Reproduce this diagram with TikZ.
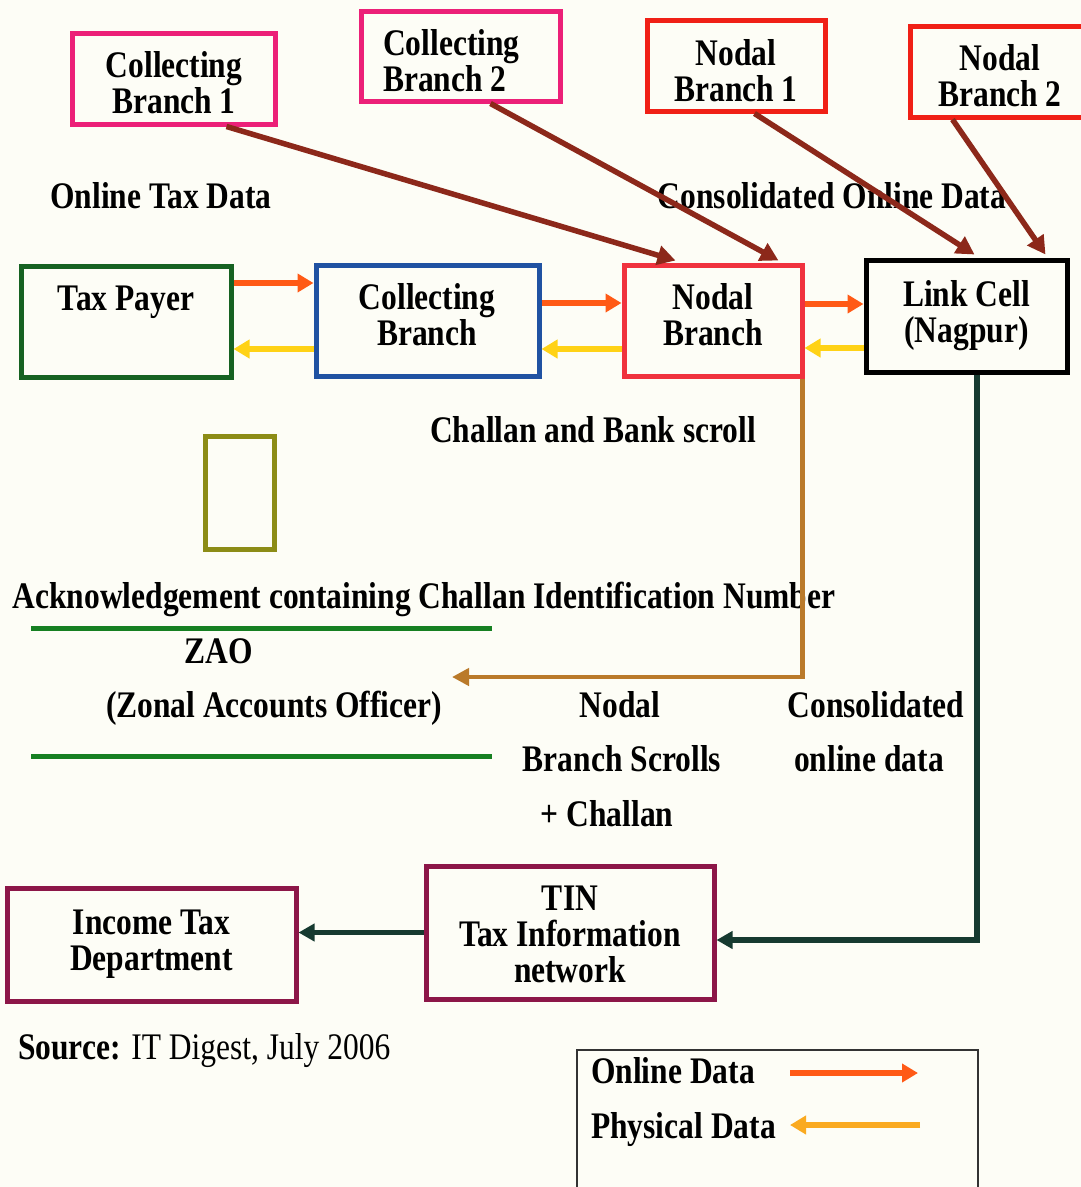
\documentclass[tikz,border=0pt]{standalone}
\usepackage{fontspec}
\setmainfont{Liberation Serif}[FakeStretch=0.84]
\usetikzlibrary{arrows.meta,calc}

\definecolor{paper}{RGB}{253,253,246}
\definecolor{pinkb}{RGB}{236,32,120}
\definecolor{redb}{RGB}{240,32,22}
\definecolor{nodalred}{RGB}{240,50,62}
\definecolor{payergreen}{RGB}{22,98,34}
\definecolor{branchblue}{RGB}{32,82,162}
\definecolor{olive}{RGB}{140,140,22}
\definecolor{maroon}{RGB}{140,22,72}
\definecolor{feedbrown}{RGB}{140,40,26}
\definecolor{scrollgold}{RGB}{186,122,42}
\definecolor{netdark}{RGB}{22,58,48}
\definecolor{onlinec}{RGB}{255,90,22}
\definecolor{physc}{RGB}{255,210,22}
\definecolor{physleg}{RGB}{250,170,32}
\definecolor{zaogreen}{RGB}{22,128,34}

\begin{document}
\begin{tikzpicture}[x=1pt,y=-1pt,
  every node/.style={font=\bfseries\fontsize{37.5}{36}\selectfont, inner sep=0pt, align=center},
  box/.style={draw=#1, line width=5pt},
  label/.style={anchor=base},
  online/.style={draw=onlinec, line width=6pt, -{Triangle[length=16pt,width=18pt]}},
  physical/.style={draw=physc, line width=6pt, -{Triangle[length=16pt,width=18pt]}},
  feed/.style={draw=feedbrown, line width=5.5pt, -{Triangle[length=18pt,width=19pt]}},
  scroll/.style={draw=scrollgold, line width=4.5pt, -{Triangle[length=17pt,width=17pt]}},
  net/.style={draw=netdark, line width=5.5pt, -{Triangle[length=16pt,width=17pt]}}]

\clip (0,0) rectangle (1081,1187);
\fill[paper] (0,0) rectangle (1081,1187);

% upper branches
\node[box=pinkb, minimum width=203pt, minimum height=91pt] (cb1) at (173.5,78.5) {};
\node (cb1t) at (174,82.5) {Collecting\\Branch 1};
\node[box=pinkb, minimum width=199pt, minimum height=90pt] (cb2) at (460.5,56) {};
\node[align=left, anchor=west] (cb2t) at (383,60.5) {Collecting\\Branch 2};
\node[box=redb, minimum width=178pt, minimum height=91pt] (nb1) at (736,65.5) {};
\node (nb1t) at (736,70.5) {Nodal\\Branch 1};
\node[box=redb, minimum width=182pt, minimum height=91pt] (nb2) at (1001,71.5) {};
\node (nb2t) at (1000,76) {Nodal\\Branch 2};

% main chain
\node[box=payergreen, minimum width=210pt, minimum height=111pt] (tp) at (126,321.5) {};
\node[label] (tpt) at (126,310) {Tax Payer};
\node[box=branchblue, minimum width=223pt, minimum height=111pt] (cb) at (427.5,320.5) {};
\node (cbt) at (427,314.5) {Collecting\\Branch};
\node[box=nodalred, minimum width=178pt, minimum height=111pt] (nb) at (713,320.5) {};
\node (nbt) at (713,314.5) {Nodal\\Branch};
\node[box=black, minimum width=201pt, minimum height=112pt] (lc) at (966.5,316) {};
\node (lct) at (966.5,315.5) {Link Cell\\(Nagpur)};

% lower chain
\node[box=maroon, minimum width=289pt, minimum height=113pt] (itd) at (151.5,944.5) {};
\node (itdt) at (151.5,944.5) {Income Tax\\Department};
\node[box=maroon, minimum width=288pt, minimum height=133pt] (tin) at (570,932.5) {};
\node (tint) at (570,934.5) {TIN\\Tax Information\\network};

% challan slip
\node[draw=olive, line width=5pt, minimum width=69pt, minimum height=113pt] (slip) at (239.5,492.5) {};

% free labels
\node[label] (otd) at (161,208) {Online Tax Data};
\node[label] (cod) at (832,208) {Consolidated Online Data};
\node[label] (cbs) at (593,442) {Challan and Bank scroll};
\node[label] (ack) at (424,608) {Acknowledgement containing Challan Identification Number};
\node[label] (zao) at (219,663) {ZAO};
\node[label] (zaof) at (274,717) {(Zonal Accounts Officer)};
\node[label] (nbs1) at (620,717) {Nodal};
\node[label] (nbs2) at (622,771) {Branch Scrolls};
\node[label] (nbs3) at (607,826) {+ Challan};
\node[label] (cold1) at (876,717) {Consolidated};
\node[label] (cold2) at (869,771) {online data};
\node[label, anchor=base west] (src) at (18,1059) {Source: {\mdseries IT Digest, July 2006}};

% ZAO rules
\coordinate (zl1a) at (31,628);
\coordinate (zl1b) at (492,628);
\coordinate (zl2a) at (31,756);
\coordinate (zl2b) at (492,756);
\draw[zaogreen, line width=5pt] (zl1a) -- (zl1b);
\draw[zaogreen, line width=5pt] (zl2a) -- (zl2b);

% branch feeds into nodal branch and link cell
\draw[feed] ($(cb1.south west)+(157,0)$) -- ($(nb.north west)+(54,-2)$);
\draw[feed] ($(cb2.south west)+(132,0)$) -- ($(nb.north east)+(-26,-2)$);
\draw[feed] ($(nb1.south west)+(110,0)$) -- ($(lc.north)+(8,-3)$);
\draw[feed] ($(nb2.south west)+(45,0)$) -- ($(lc.north east)+(-24,-3)$);

% online and physical flows
\draw[online] ([yshift=38.5pt]tp.east) -- ([yshift=38.5pt]tp.east -| cb.west);
\draw[physical] ([yshift=-28.5pt]cb.west) -- ([yshift=-28.5pt]cb.west -| tp.east);
\draw[online] ([yshift=17.5pt]cb.east) -- ([yshift=17.5pt]cb.east -| nb.west);
\draw[physical] ([yshift=-28.5pt]nb.west) -- ([yshift=-28.5pt]nb.west -| cb.east);
\draw[online] ([yshift=16.5pt]nb.east) -- ([yshift=16.5pt]nb.east -| lc.west);
\draw[physical] ([yshift=-32pt]lc.west) -- ([yshift=-32pt]lc.west -| nb.east);

% scrolls to ZAO
\coordinate (zaoin) at (452,677);
\draw[scroll] ([xshift=-2pt]nb.south east) |- (zaoin);

% consolidated data to TIN and on to the department
\draw[net] ([xshift=10.5pt]lc.south) |- ([yshift=-7.5pt]tin.east);
\draw[net] (tin.west) -- (tin.west -| itd.east);

% legend
\node[draw=black!80, line width=1.5pt, minimum width=401pt, minimum height=150pt] (leg) at (777.5,1125) {};
\node[anchor=base west] (legon) at (591,1083) {Online Data};
\node[anchor=base west] (legph) at (591,1138) {Physical Data};
\coordinate (lon1) at (790,1073);
\coordinate (lon2) at (918,1073);
\coordinate (lph1) at (920,1125);
\coordinate (lph2) at (790,1125);
\draw[online] (lon1) -- (lon2);
\draw[physical, draw=physleg] (lph1) -- (lph2);
\end{tikzpicture}
\end{document}
